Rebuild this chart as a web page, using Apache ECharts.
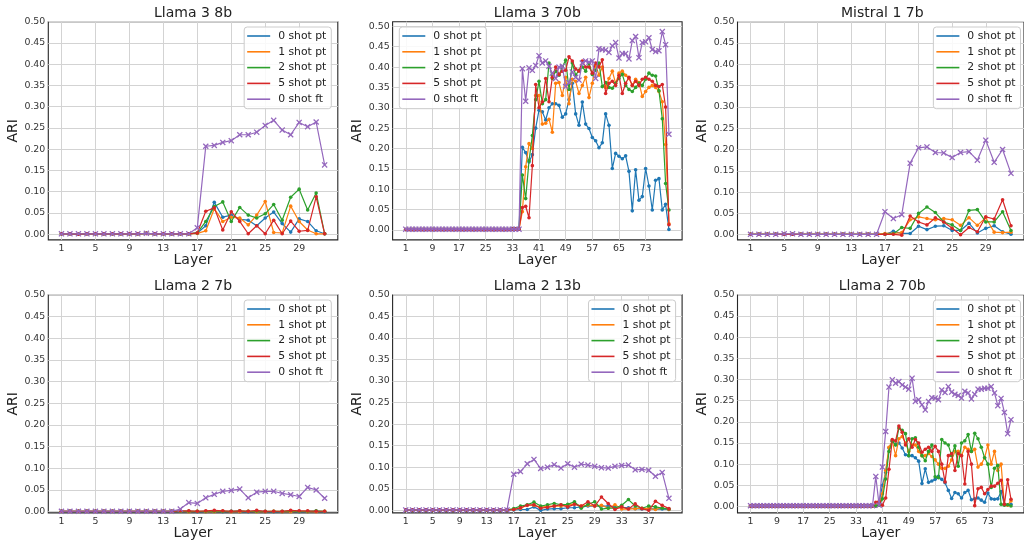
<!DOCTYPE html>
<html><head><meta charset="utf-8">
<script src="https://cdn.jsdelivr.net/npm/echarts@6/dist/echarts.min.js"></script>
<style>html,body{margin:0;padding:0;background:#fff}#c{width:1024px;height:544px}</style>
</head><body><div id="c"></div>
<script>
const seriesNames = ['0 shot pt','1 shot pt','2 shot pt','5 shot pt','0 shot ft'];
const panelTitles = ['Llama 3 8b','Llama 3 70b','Mistral 1 7b','Llama 2 7b','Llama 2 13b','Llama 2 70b'];
const yTicks = [0,0.05,0.10,0.15,0.20,0.25,0.30,0.35,0.40,0.45,0.50];
const xTicks32 = [1,5,9,13,17,21,25,29];
const xTicks40 = [1,5,9,13,17,21,25,29,33,37];
const xTicks80 = [1,9,17,25,33,41,49,57,65,73];

// Llama 3 8b
const l38_0pt = [0.001,0.001,0.000,0.001,0.001,0.001,0.001,0.001,0.001,0.001,0.002,0.001,0.001,0.001,0.001,0.001,
  0.003,0.020,0.075,0.040,0.045,0.035,0.033,0.020,0.038,0.052,0.025,0.005,0.036,0.030,0.008,0.001];
const l38_1pt = [0.001,0.001,0.000,0.001,0.001,0.001,0.001,0.001,0.001,0.001,0.002,0.001,0.001,0.001,0.001,0.001,
  0.002,0.008,0.060,0.030,0.040,0.038,0.022,0.045,0.077,0.004,0.003,0.066,0.030,0.010,0.001,0.001];
const l38_2pt = [0.001,0.001,0.000,0.001,0.001,0.001,0.001,0.001,0.001,0.001,0.002,0.001,0.001,0.001,0.001,0.001,
  0.003,0.030,0.065,0.076,0.030,0.063,0.045,0.038,0.048,0.070,0.033,0.087,0.106,0.057,0.097,0.001];
const l38_5pt = [0.001,0.001,0.000,0.001,0.001,0.001,0.001,0.001,0.001,0.001,0.002,0.001,0.001,0.001,0.001,0.001,
  0.003,0.054,0.062,0.010,0.053,0.030,0.001,0.020,0.001,0.033,0.001,0.031,0.007,0.009,0.088,0.001];
const l38_0ft = [0.001,0.001,0.001,0.001,0.001,0.001,0.001,0.001,0.001,0.001,0.002,0.001,0.001,0.001,0.001,0.001,
  0.015,0.207,0.209,0.216,0.220,0.234,0.234,0.240,0.256,0.268,0.245,0.234,0.263,0.253,0.264,0.163];

// Llama 3 70b
const l370_0pt = [0.001,0.001,0.001,0.001,0.001, 0.001,0.001,0.001,0.001,0.001, 0.001,0.001,0.001,0.001,0.001, 0.001,0.001,0.001,0.001,0.001, 0.001,0.001,0.001,0.001,0.001, 0.001,0.001,0.001,0.001,0.001, 0.001,0.001,0.002,0.002,0.002,
  0.203,0.190,0.167,0.185,0.250, 0.294,0.290,0.270,0.300,0.310, 0.310,0.306,0.277,0.285,0.320, 0.360,0.285,0.257,0.314,0.260, 0.249,0.227,0.219,0.202,0.214, 0.285,0.257,0.151,0.188,0.181, 0.175,0.182,0.144,0.047,0.148, 0.073,0.082,0.151,0.108,0.049, 0.122,0.126,0.049,0.063,0.001];
const l370_1pt = [0.001,0.001,0.001,0.001,0.001, 0.001,0.001,0.001,0.001,0.001, 0.001,0.001,0.001,0.001,0.001, 0.001,0.001,0.001,0.001,0.001, 0.001,0.001,0.001,0.001,0.001, 0.001,0.001,0.001,0.001,0.001, 0.001,0.001,0.002,0.002,0.002,
  0.045,0.155,0.212,0.200,0.330, 0.330,0.260,0.262,0.272,0.240, 0.360,0.362,0.330,0.375,0.310, 0.370,0.365,0.335,0.355,0.375, 0.325,0.360,0.405,0.380,0.400, 0.350,0.372,0.390,0.360,0.385, 0.390,0.380,0.372,0.355,0.370, 0.362,0.328,0.340,0.350,0.355, 0.350,0.340,0.315,0.210,0.015];
const l370_2pt = [0.001,0.001,0.001,0.001,0.001, 0.001,0.001,0.001,0.001,0.001, 0.001,0.001,0.001,0.001,0.001, 0.001,0.001,0.001,0.001,0.001, 0.001,0.001,0.001,0.001,0.001, 0.001,0.001,0.001,0.001,0.001, 0.001,0.001,0.002,0.002,0.002,
  0.135,0.077,0.170,0.232,0.320, 0.365,0.310,0.320,0.410,0.372, 0.390,0.380,0.400,0.417,0.345, 0.410,0.380,0.392,0.400,0.390, 0.410,0.382,0.392,0.410,0.352, 0.362,0.350,0.348,0.360,0.372, 0.382,0.355,0.345,0.340,0.350, 0.360,0.355,0.370,0.385,0.380, 0.378,0.342,0.273,0.114,0.049];
const l370_5pt = [0.001,0.001,0.001,0.001,0.001, 0.001,0.001,0.001,0.001,0.001, 0.001,0.001,0.001,0.001,0.001, 0.001,0.001,0.001,0.001,0.001, 0.001,0.001,0.001,0.001,0.001, 0.001,0.001,0.001,0.001,0.001, 0.001,0.001,0.002,0.002,0.002,
  0.055,0.058,0.030,0.158,0.357, 0.300,0.315,0.372,0.315,0.375, 0.400,0.382,0.390,0.392,0.425, 0.415,0.395,0.390,0.415,0.400, 0.400,0.385,0.410,0.400,0.418, 0.335,0.360,0.365,0.355,0.380, 0.335,0.360,0.375,0.355,0.365, 0.355,0.370,0.375,0.370,0.365, 0.355,0.352,0.357,0.302,0.013];
const l370_0ft = [0.002,0.002,0.002,0.002,0.002, 0.002,0.002,0.002,0.002,0.002, 0.002,0.002,0.002,0.002,0.002, 0.002,0.002,0.002,0.002,0.002, 0.002,0.002,0.002,0.002,0.002, 0.002,0.002,0.002,0.002,0.002, 0.002,0.002,0.002,0.002,0.002,
  0.396,0.316,0.398,0.392,0.404, 0.428,0.410,0.415,0.402,0.385, 0.372,0.400,0.402,0.352,0.362, 0.388,0.375,0.368,0.410,0.415, 0.412,0.415,0.372,0.445,0.443, 0.442,0.436,0.452,0.460,0.422, 0.433,0.433,0.420,0.465,0.475, 0.423,0.460,0.462,0.472,0.443, 0.438,0.440,0.487,0.455,0.235];

// Mistral 1 7b
const m17_0pt = [0.001,0.001,0.001,0.001,0.001,0.001,0.001,0.001,0.001,0.001,0.001,0.001,0.001,0.001,0.001,0.001,0.001,
  0.008,0.003,0.003,0.020,0.012,0.020,0.021,0.010,0.010,0.027,0.004,0.015,0.021,0.007,0.001];
const m17_1pt = [0.001,0.001,0.001,0.001,0.001,0.001,0.001,0.001,0.001,0.001,0.001,0.001,0.001,0.001,0.001,0.001,
  0.003,0.003,0.005,0.035,0.042,0.038,0.035,0.038,0.035,0.022,0.040,0.022,0.040,0.006,0.005,0.006];
const m17_2pt = [0.001,0.001,0.001,0.001,0.001,0.001,0.001,0.001,0.001,0.001,0.001,0.001,0.001,0.001,0.001,0.001,
  0.001,0.002,0.017,0.015,0.050,0.065,0.052,0.030,0.023,0.010,0.057,0.059,0.030,0.030,0.054,0.010];
const m17_5pt = [0.001,0.001,0.001,0.001,0.001,0.001,0.001,0.001,0.001,0.001,0.001,0.001,0.001,0.001,0.001,0.001,
  0.001,0.001,-0.001,0.044,0.030,0.023,0.040,0.030,0.015,0.000,0.017,0.007,0.042,0.037,0.082,0.021];
const m17_0ft = [0.001,0.001,0.001,0.001,0.002,0.002,0.001,0.001,0.001,0.001,0.001,0.001,0.001,0.001,0.001,0.001,
  0.054,0.038,0.047,0.168,0.204,0.206,0.193,0.192,0.181,0.193,0.195,0.175,0.222,0.170,0.200,0.144];

// Llama 2 7b
const l27_0pt = [0.001,0.001,0.001,0.001,0.001,0.001,0.001,0.001,0.001,0.001,0.001,0.001,0.001,0.001,
  0.001,0.001,0.000,0.000,0.001,0.000,0.001,0.000,0.000,0.001,0.000,0.000,0.000,0.001,0.000,0.000,0.001,0.000];
const l27_1pt = [0.001,0.001,0.001,0.001,0.001,0.001,0.001,0.001,0.001,0.001,0.001,0.001,0.001,0.001,
  0.001,0.000,0.001,0.000,0.000,0.001,0.000,0.000,0.001,0.000,0.000,0.001,0.000,0.000,0.001,0.000,0.000,0.001];
const l27_2pt = [0.001,0.001,0.001,0.001,0.001,0.001,0.001,0.001,0.001,0.001,0.001,0.001,0.001,0.001,
  0.001,0.001,0.001,0.001,0.001,0.001,0.001,0.002,0.001,0.001,0.001,0.001,0.001,0.002,0.001,0.001,0.002,0.001];
const l27_5pt = [0.001,0.001,0.001,0.001,0.001,0.001,0.001,0.001,0.001,0.001,0.001,0.001,0.001,0.001,
  0.002,0.002,0.001,0.002,0.003,0.002,0.001,0.002,0.001,0.003,0.001,0.001,0.001,0.003,0.002,0.002,0.001,0.001];
const l27_0ft = [0.001,0.001,0.001,0.001,0.001,0.001,0.001,0.001,0.001,0.001,0.001,0.001,0.001,0.001,
  0.006,0.021,0.019,0.032,0.040,0.047,0.049,0.052,0.032,0.045,0.047,0.047,0.042,0.039,0.035,0.056,0.050,0.031];

// Llama 2 13b
const l213_0pt = [0.001,0.001,0.001,0.001,0.001,0.001,0.001,0.001,0.001,0.001,0.001,0.001,0.001,0.001,0.001,0.001,
  0.001,0.002,0.002,0.008,0.000,0.003,0.004,0.004,0.006,0.006,0.008,0.010,0.010,0.010,0.010,0.008,0.007,0.006,0.004,0.003,0.004,0.003,0.003,0.002];
const l213_1pt = [0.001,0.001,0.001,0.001,0.001,0.001,0.001,0.001,0.001,0.001,0.001,0.001,0.001,0.001,0.001,0.001,
  0.002,0.005,0.012,0.012,0.007,0.010,0.010,0.010,0.012,0.015,0.010,0.012,0.010,0.012,0.005,0.013,0.003,0.003,0.004,0.005,0.004,0.002,0.006,0.002];
const l213_2pt = [0.001,0.001,0.001,0.001,0.001,0.001,0.001,0.001,0.001,0.001,0.001,0.001,0.001,0.001,0.001,0.001,
  0.004,0.010,0.013,0.019,0.010,0.013,0.016,0.013,0.014,0.020,0.005,0.014,0.020,0.003,0.005,0.005,0.012,0.025,0.010,0.005,0.010,0.008,0.005,0.003];
const l213_5pt = [0.001,0.001,0.001,0.001,0.001,0.001,0.001,0.001,0.001,0.001,0.001,0.001,0.001,0.001,0.001,0.001,
  0.002,0.006,0.012,0.013,0.005,0.007,0.010,0.013,0.008,0.014,0.010,0.020,0.010,0.031,0.016,0.002,0.008,0.003,0.015,0.004,0.000,0.021,0.012,0.004];
const l213_0ft = [0.001,0.001,0.001,0.001,0.001,0.001,0.001,0.001,0.001,0.001,0.001,0.001,0.001,0.001,0.001,0.001,
  0.084,0.090,0.108,0.118,0.097,0.100,0.106,0.098,0.108,0.100,0.107,0.105,0.102,0.099,0.098,0.102,0.104,0.105,0.094,0.095,0.093,0.079,0.088,0.028];

// Llama 2 70b
const l270_0pt = [0.001,0.001,0.001,0.001,0.001, 0.001,0.001,0.001,0.001,0.001, 0.001,0.001,0.001,0.001,0.001, 0.001,0.001,0.001,0.001,0.001, 0.001,0.001,0.001,0.001,0.001, 0.001,0.001,0.001,0.001,0.001, 0.001,0.001,0.001,0.001,0.001, 0.001,0.001,0.001,0.001,
  0.009, 0.050,0.080,0.138,0.154,0.146, 0.150,0.138,0.122,0.120,0.120, 0.115,0.107,0.054,0.089,0.057, 0.060,0.064,0.071,0.064,0.056, 0.038,0.019,0.033,0.030,0.020, 0.033,0.038,0.016,0.018,0.020, 0.015,0.010,0.032,0.018,0.017, 0.018,0.035,0.005,0.004,0.005];
const l270_1pt = [0.001,0.001,0.001,0.001,0.001, 0.001,0.001,0.001,0.001,0.001, 0.001,0.001,0.001,0.001,0.001, 0.001,0.001,0.001,0.001,0.001, 0.001,0.001,0.001,0.001,0.001, 0.001,0.001,0.001,0.001,0.001, 0.001,0.001,0.001,0.001,0.001, 0.001,0.001,0.001,0.001,
  0.005, 0.030,0.085,0.140,0.155,0.120, 0.160,0.165,0.150,0.130,0.145, 0.145,0.130,0.120,0.120,0.125, 0.118,0.110,0.100,0.090,0.090, 0.095,0.110,0.130,0.130,0.120, 0.140,0.135,0.130,0.135,0.093, 0.100,0.115,0.145,0.100,0.130, 0.085,0.100,0.005,0.003,0.013];
const l270_2pt = [0.001,0.001,0.001,0.001,0.001, 0.001,0.001,0.001,0.001,0.001, 0.001,0.001,0.001,0.001,0.001, 0.001,0.001,0.001,0.001,0.001, 0.001,0.001,0.001,0.001,0.001, 0.001,0.001,0.001,0.001,0.001, 0.001,0.001,0.001,0.001,0.001, 0.001,0.001,0.001,0.001,
  0.003, 0.018,0.065,0.130,0.155,0.145, 0.185,0.180,0.172,0.120,0.160, 0.162,0.140,0.120,0.108,0.130, 0.145,0.070,0.068,0.158,0.150, 0.145,0.120,0.143,0.095,0.150, 0.155,0.170,0.130,0.173,0.160, 0.140,0.115,0.100,0.045,0.090, 0.097,0.005,0.003,0.004,0.001];
const l270_5pt = [0.001,0.001,0.001,0.001,0.001, 0.001,0.001,0.001,0.001,0.001, 0.001,0.001,0.001,0.001,0.001, 0.001,0.001,0.001,0.001,0.001, 0.001,0.001,0.001,0.001,0.001, 0.001,0.001,0.001,0.001,0.001, 0.001,0.001,0.001,0.001,0.001, 0.001,0.001,0.001,
  0.010,0.012, 0.003,0.020,0.088,0.158,0.155, 0.190,0.175,0.145,0.160,0.140, 0.158,0.150,0.128,0.135,0.140, 0.130,0.142,0.130,0.100,0.058, 0.120,0.125,0.085,0.125,0.120, 0.053,0.130,0.100,0.002,0.042, 0.045,0.030,0.040,0.048,0.048, 0.055,0.062,0.005,0.063,0.017];
const l270_0ft = [0.002,0.002,0.002,0.002,0.002, 0.002,0.002,0.002,0.002,0.002, 0.002,0.002,0.002,0.002,0.002, 0.002,0.002,0.002,0.002,0.002, 0.002,0.002,0.002,0.002,0.002, 0.002,0.002,0.002,0.002,0.002, 0.002,0.002,0.002,0.002,0.002, 0.002,0.002,0.002,
  0.071,0.003, 0.093,0.177,0.282,0.299,0.291, 0.295,0.287,0.282,0.277,0.303, 0.248,0.252,0.240,0.228,0.248, 0.257,0.256,0.252,0.275,0.269, 0.283,0.270,0.265,0.262,0.256, 0.272,0.268,0.254,0.265,0.277, 0.277,0.279,0.279,0.283,0.268, 0.238,0.255,0.222,0.172,0.205];

const panelData = [
  [l38_0pt, l38_1pt, l38_2pt, l38_5pt, l38_0ft],
  [l370_0pt, l370_1pt, l370_2pt, l370_5pt, l370_0ft],
  [m17_0pt, m17_1pt, m17_2pt, m17_5pt, m17_0ft],
  [l27_0pt, l27_1pt, l27_2pt, l27_5pt, l27_0ft],
  [l213_0pt, l213_1pt, l213_2pt, l213_5pt, l213_0ft],
  [l270_0pt, l270_1pt, l270_2pt, l270_5pt, l270_0ft]
];
const panelTicks = [xTicks32, xTicks80, xTicks32, xTicks32, xTicks40, xTicks80];

// styling / layout
const colors = ['#1f77b4','#ff7f0e','#2ca02c','#d62728','#9467bd'];
const FONT = 'DejaVu Sans';
const colLeft = [48.3, 392.6, 737.5];
const rowTop = [21.7, 294.7];
const GW = 289.5, GH = 218.2;
const legendTopLeft = [false, true, false, false, false, false];
const xMark = 'path://M0,1.5L1.5,0L5,3.5L8.5,0L10,1.5L6.5,5L10,8.5L8.5,10L5,6.5L1.5,10L0,8.5L3.5,5Z';

const grids = [], xAxes = [], yAxes = [], series = [], titles = [], legends = [];
panelData.forEach((data, i) => {
  const col = i % 3, row = Math.floor(i / 3);
  const gl = colLeft[col], gt = rowTop[row];
  grids.push({left: gl, top: gt, width: GW, height: GH, show: true, backgroundColor: '#fff',
    borderColor: '#262626', borderWidth: 1.1, containLabel: false});
  const n = data[0].length;
  const all = [].concat(...data);
  const lo = Math.min(0, ...all), hi = Math.max(...all);
  const pad = 0.05 * (hi - lo);
  const ticks = panelTicks[i];
  xAxes.push({type: 'value', gridIndex: i, min: 1 - 0.05 * (n - 1), max: n + 0.05 * (n - 1),
    name: 'Layer', nameLocation: 'middle', nameGap: 12.5,
    nameTextStyle: {fontSize: 14, color: '#222', fontFamily: FONT, verticalAlign: 'top'},
    axisLine: {show: false}, axisTick: {show: false, customValues: ticks},
    axisLabel: {customValues: ticks, fontSize: 9.4, color: '#333', margin: 4, fontFamily: FONT},
    splitLine: {show: true, lineStyle: {color: '#d3d3d3', width: 1}}});
  yAxes.push({type: 'value', gridIndex: i, min: lo - pad, max: Math.max(0.5, hi + pad),
    name: 'ARI', nameLocation: 'middle', nameGap: 24.5,
    nameTextStyle: {fontSize: 14, color: '#222', fontFamily: FONT},
    axisLine: {show: false}, axisTick: {show: false, customValues: yTicks},
    axisLabel: {customValues: yTicks, fontSize: 9.4, color: '#333', margin: 3, fontFamily: FONT,
      formatter: v => v.toFixed(2)},
    splitLine: {show: true, lineStyle: {color: '#d3d3d3', width: 1}}});
  titles.push({text: panelTitles[i], left: gl + GW / 2, top: gt - 15.2, textAlign: 'center', padding: 0,
    textStyle: {fontSize: 14, fontWeight: 'normal', color: '#222', fontFamily: FONT}});
  const lg = {data: seriesNames.slice(), orient: 'vertical', top: gt + 5.3,
    backgroundColor: 'rgba(255,255,255,0.85)', borderColor: '#cccccc', borderWidth: 1, borderRadius: 3,
    padding: [3.5, 5, 4, 3], itemGap: 4.8, itemWidth: 23, itemHeight: 1.6, icon: 'rect',
    selectedMode: false,
    textStyle: {fontSize: 10.8, color: '#222', fontFamily: FONT, padding: [0, 0, 0, 3]}};
  if (legendTopLeft[i]) lg.left = gl + 6.7; else lg.right = 1024 - (gl + GW - 6.5);
  legends.push(lg);
  data.forEach((vals, s) => {
    series.push({type: 'line', name: seriesNames[s], xAxisIndex: i, yAxisIndex: i,
      data: vals.map((v, k) => [k + 1, v]),
      symbol: s === 4 ? xMark : 'circle', symbolSize: s === 4 ? 6 : 3.6,
      showSymbol: true, lineStyle: {width: 1.2, color: colors[s]}, itemStyle: {color: colors[s]},
      emphasis: {disabled: true}, animation: false, z: 2 + s});
  });
});

const chart = echarts.init(document.getElementById('c'));
chart.setOption({animation: false, backgroundColor: '#fff', textStyle: {fontFamily: FONT},
  grid: grids, xAxis: xAxes, yAxis: yAxes, series: series, title: titles, legend: legends});
</script>
</body></html>
